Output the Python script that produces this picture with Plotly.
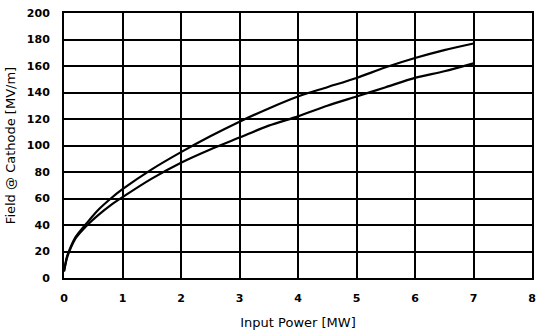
import plotly.graph_objects as go

power_mw = [0, 0.05, 0.1, 0.2, 0.4, 0.6, 0.8, 1, 1.5, 2, 2.5, 3, 3.5, 4, 4.5, 5, 5.5, 6, 6.5, 7]
field_upper = [5, 16, 22, 31, 42, 52, 60, 67, 82, 95, 107, 118, 128, 137, 144, 151, 159, 166, 172, 177]
field_lower = [5, 15, 21, 30, 40, 48, 55, 61, 75, 87, 97, 106, 115, 122, 130, 137, 144, 151, 156, 162]

x_ticks = [0, 1, 2, 3, 4, 5, 6, 7, 8]
y_ticks = [0, 20, 40, 60, 80, 100, 120, 140, 160, 180, 200]

fig = go.Figure()
for ys in (field_upper, field_lower):
    fig.add_trace(go.Scatter(x=power_mw, y=ys, mode="lines",
                             line=dict(color="black", width=2.2, shape="spline", smoothing=0.8),
                             showlegend=False, hoverinfo="skip"))

tick_font = dict(family="DejaVu Sans", size=11, color="black")
title_font = dict(family="DejaVu Sans", size=13, color="black")
fig.update_layout(
    width=541, height=333,
    margin=dict(l=64, r=5, t=13, b=55),
    paper_bgcolor="white", plot_bgcolor="white",
    xaxis=dict(range=[0, 8], tickvals=x_ticks, ticktext=[f"<b>{v}</b>" for v in x_ticks],
               showgrid=True, gridcolor="black", gridwidth=2,
               showline=True, linecolor="black", linewidth=2, mirror=True,
               zeroline=False, ticks="", ticklabelstandoff=9,
               tickfont=tick_font,
               title=dict(text="Input Power [MW]", font=title_font, standoff=14)),
    yaxis=dict(range=[0, 200], tickvals=y_ticks, ticktext=[f"<b>{v}</b>" for v in y_ticks],
               showgrid=True, gridcolor="black", gridwidth=2,
               showline=True, linecolor="black", linewidth=2, mirror=True,
               zeroline=False, ticks="", ticklabelstandoff=10,
               tickfont=tick_font,
               title=dict(text="Field @ Cathode [MV/m]", font=title_font, standoff=8)),
)
fig.write_html("out.html")
